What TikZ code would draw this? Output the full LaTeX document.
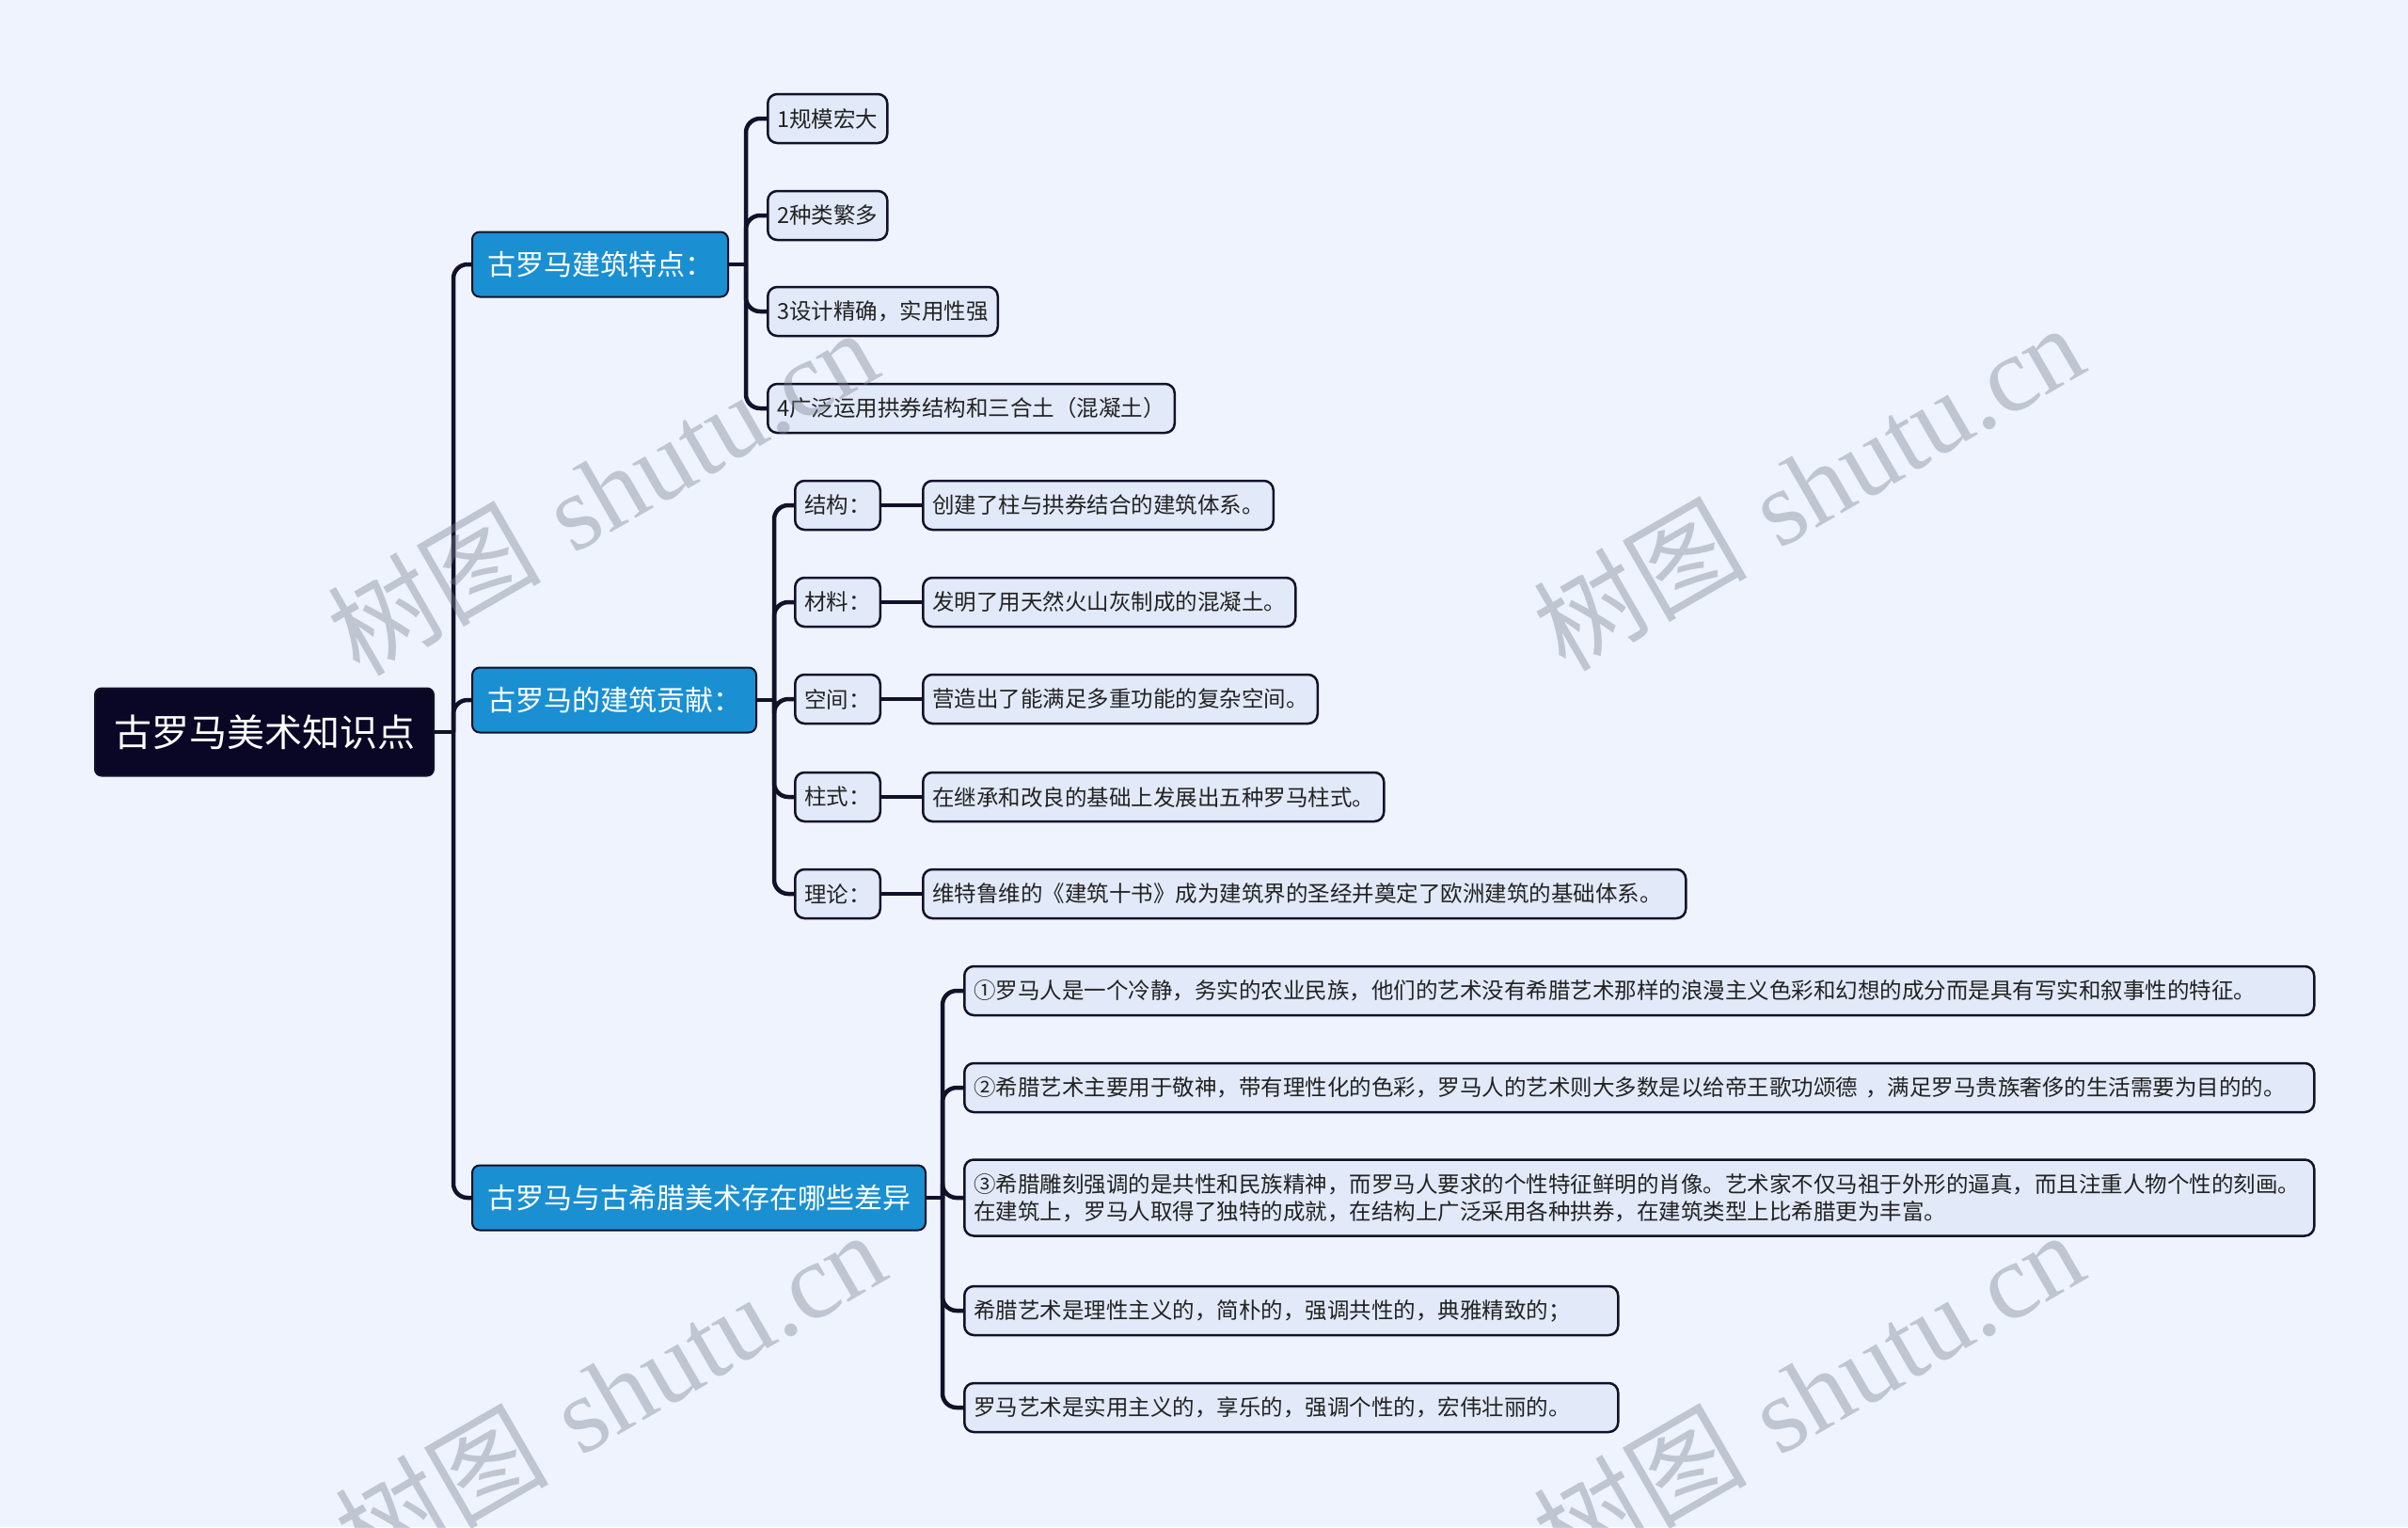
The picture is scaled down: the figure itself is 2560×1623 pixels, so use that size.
\documentclass[tikz,border=0pt]{standalone}
\usepackage{fontspec}
\newfontfamily\cjk{Noto Sans CJK SC}
\newfontfamily\wmserif{Liberation Serif}
\definecolor{bg}{HTML}{EEF3FD}
\definecolor{rootfill}{HTML}{0A0626}
\definecolor{lonefill}{HTML}{1A8FD2}
\definecolor{leaffill}{HTML}{E2EAFA}
\definecolor{edgec}{HTML}{12112A}
\definecolor{leaftext}{HTML}{222222}
\definecolor{wm}{HTML}{7A8090}
\begin{document}
\begin{tikzpicture}[x=1pt,y=-1pt,
 rootbox/.style={draw=edgec, fill=rootfill, text=white, rounded corners=7pt, line width=2pt,
   font=\cjk\fontsize{40}{48}\selectfont, inner xsep=20pt, minimum height=93pt, anchor=west},
 lonebox/.style={draw=edgec, fill=lonefill, text=white, rounded corners=8pt, line width=2pt,
   font=\cjk\fontsize{30}{36}\selectfont, inner xsep=16pt, minimum height=69pt, anchor=west},
 leafbox/.style={draw=edgec, fill=leaffill, text=leaftext, rounded corners=10pt, line width=2.5pt,
   font=\cjk\fontsize{23.5}{29}\selectfont, inner xsep=10pt, minimum height=52pt, anchor=west},
 conn/.style={draw=edgec, line width=4.5pt, rounded corners=15pt},
 straight/.style={draw=edgec, line width=4.5pt},
 wmark/.style={text=wm, text opacity=0.4, rotate=30, font=\fontsize{114}{120}\selectfont},
]
\useasboundingbox (0,0) rectangle (2560,1623);
\fill[bg] (0,0) rectangle (2560,1623);

% root and level 1
\node[rootbox] (root) at (100,778) {古罗马美术知识点};
\node[lonebox] (a) at (501,281) {古罗马建筑特点：};
\node[lonebox] (b) at (501,744) {古罗马的建筑贡献：};
\node[lonebox] (c) at (501,1273) {古罗马与古希腊美术存在哪些差异};

% group a
\node[leafbox] (a1) at (815,126) {1规模宏大};
\node[leafbox] (a2) at (815,229) {2种类繁多};
\node[leafbox] (a3) at (815,331) {3设计精确，实用性强};
\node[leafbox] (a4) at (815,434) {4广泛运用拱券结构和三合土（混凝土）};

% group b
\node[leafbox] (b1) at (844,537) {结构：};
\node[leafbox] (b2) at (844,640) {材料：};
\node[leafbox] (b3) at (844,743) {空间：};
\node[leafbox] (b4) at (844,847) {柱式：};
\node[leafbox] (b5) at (844,950) {理论：};
\node[leafbox] (d1) at (980,537) {创建了柱与拱券结合的建筑体系。};
\node[leafbox] (d2) at (980,640) {发明了用天然火山灰制成的混凝土。};
\node[leafbox] (d3) at (980,743) {营造出了能满足多重功能的复杂空间。};
\node[leafbox] (d4) at (980,847) {在继承和改良的基础上发展出五种罗马柱式。};
\node[leafbox, text width=791pt, align=left] (d5) at (980,950) {维特鲁维的《建筑十书》成为建筑界的圣经并奠定了欧洲建筑的基础体系。};

% group c
\node[leafbox, text width=1415pt, align=left] (c1) at (1024,1053) {①罗马人是一个冷静，务实的农业民族，他们的艺术没有希腊艺术那样的浪漫主义色彩和幻想的成分而是具有写实和叙事性的特征。};
\node[leafbox, text width=1415pt, align=left] (c2) at (1024,1156) {②希腊艺术主要用于敬神，带有理性化的色彩，罗马人的艺术则大多数是以给帝王歌功颂德 ，满足罗马贵族奢侈的生活需要为目的的。};
\node[leafbox, text width=1415pt, align=left, minimum height=81pt] (c3) at (1024,1273) {③希腊雕刻强调的是共性和民族精神，而罗马人要求的个性特征鲜明的肖像。艺术家不仅马祖于外形的逼真，而且注重人物个性的刻画。\\在建筑上，罗马人取得了独特的成就，在结构上广泛采用各种拱券，在建筑类型上比希腊更为丰富。};
\node[leafbox, text width=675pt, align=left] (c4) at (1024,1393) {希腊艺术是理性主义的，简朴的，强调共性的，典雅精致的；};
\node[leafbox, text width=675pt, align=left] (c5) at (1024,1496) {罗马艺术是实用主义的，享乐的，强调个性的，宏伟壮丽的。};

% trunk
\coordinate (t) at (482,778);
\draw[straight] (root.east) -- (t);
\foreach \n in {a,b,c} \draw[conn] (t) -- (t |- \n.west) -- (\n.west);

% bracket a
\coordinate (ta) at (793,281);
\draw[straight] (a.east) -- (ta);
\foreach \n in {a1,a2,a3,a4} \draw[conn] (ta) -- (ta |- \n.west) -- (\n.west);

% bracket b
\coordinate (tb) at (823,744);
\draw[straight] (b.east) -- (tb);
\foreach \n in {b1,b2,b3,b4,b5} \draw[conn] (tb) -- (tb |- \n.west) -- (\n.west);
\draw[straight] (b1.east) -- (d1.west);
\draw[straight] (b2.east) -- (d2.west);
\draw[straight] (b3.east) -- (d3.west);
\draw[straight] (b4.east) -- (d4.west);
\draw[straight] (b5.east) -- (d5.west);

% bracket c
\coordinate (tc) at (1002,1273);
\draw[straight] (c.east) -- (tc);
\foreach \n in {c1,c2,c3,c4,c5} \draw[conn] (tc) -- (tc |- \n.west) -- (\n.west);

% watermarks
\node[wmark] (w1) at (640,522) {{\cjk 树图} {\wmserif shutu.cn}};
\node[wmark] (w2) at (1922,517) {{\cjk 树图} {\wmserif shutu.cn}};
\node[wmark] (w3) at (648,1481) {{\cjk 树图} {\wmserif shutu.cn}};
\node[wmark] (w4) at (1922,1481) {{\cjk 树图} {\wmserif shutu.cn}};
\end{tikzpicture}
\end{document}
